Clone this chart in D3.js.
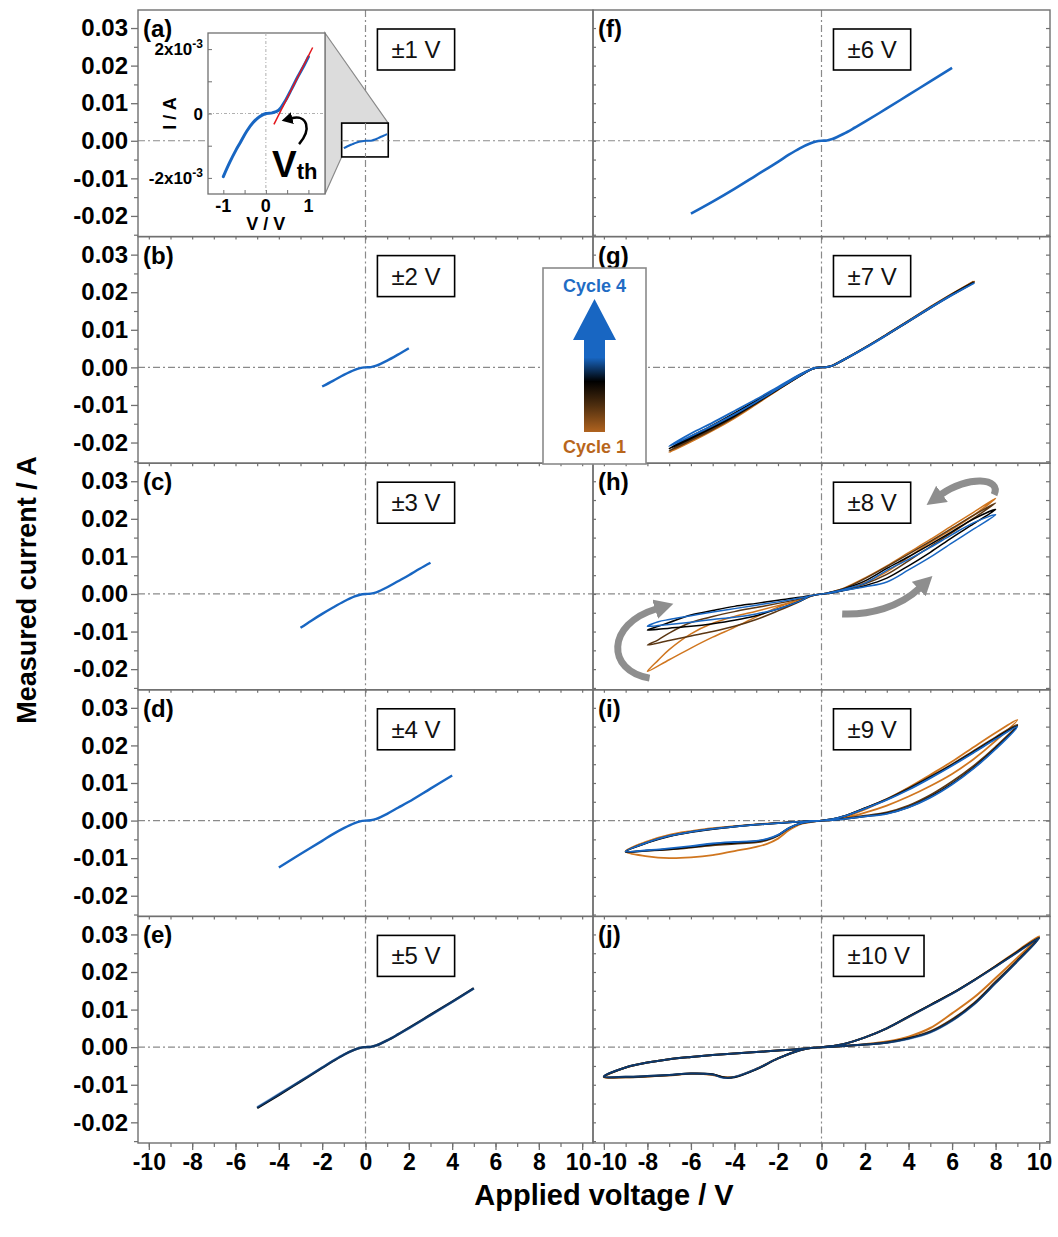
<!DOCTYPE html>
<html>
<head>
<meta charset="utf-8">
<script src="https://cdn.jsdelivr.net/npm/d3@7"></script>
<style>
  body { margin: 0; background: #fff; }
  svg { display: block; }
  text { font-family: Arial, "Liberation Sans", sans-serif; }
</style>
</head>
<body>
<svg id="chart" width="1058" height="1237"></svg>
<script>
// ---------------------------------------------------------------
// Measured I–V sweeps. Voltages in V, currents in mA.
// Each panel has one voltage path; each cycle has a current list
// of the same length (0 → +Vmax → 0 → −Vmax → 0).
// ---------------------------------------------------------------
const sweepA   = [-1, -0.85, -0.7, -0.6, -0.45, -0.3, -0.15, 0, 0.15, 0.3, 0.45, 0.6, 0.75, 0.9, 1.0];
const currentA = [-1.96, -1.52, -1.13, -0.9, -0.55, -0.28, -0.1, 0, 0.02, 0.1, 0.38, 0.75, 1.14, 1.5, 1.76];

// straight-line fit used to read the threshold voltage
const vthFitV = [0.19, 1.1];
const vthFitI = [-0.34, 2.05];

const sweepB   = [-2, -1.5, -1, -0.5, -0.25, 0, 0.25, 0.5, 1, 1.5, 2];
const currentB = [-5.1, -3.6, -2.0, -0.65, -0.2, 0, 0.08, 0.45, 1.8, 3.4, 5.1];

const sweepC   = [-3, -2.5, -2, -1.5, -1, -0.5, -0.25, 0, 0.25, 0.5, 1, 1.5, 2, 2.5, 3];
const currentC = [-9.0, -7.1, -5.3, -3.6, -2.0, -0.65, -0.2, 0, 0.08, 0.45, 1.8, 3.4, 5.0, 6.7, 8.3];

const sweepD   = [-4, -3, -2, -1.5, -1, -0.5, -0.25, 0, 0.25, 0.5, 1, 1.5, 2, 3, 4];
const currentD = [-12.5, -8.9, -5.4, -3.6, -2.0, -0.65, -0.2, 0, 0.08, 0.45, 1.8, 3.4, 5.0, 8.5, 12.0];

const sweepE    = [-5, -4, -3, -2, -1.5, -1, -0.5, -0.25, 0, 0.25, 0.5, 1, 1.5, 2, 3, 4, 5];
const currentE3 = [-16.2, -12.7, -9.1, -5.5, -3.7, -2.0, -0.65, -0.2, 0, 0.08, 0.45, 1.8, 3.4, 5.1, 8.6, 12.1, 15.7];
const currentE4 = [-16.0, -12.5, -9.0, -5.4, -3.6, -2.0, -0.65, -0.2, 0, 0.08, 0.45, 1.8, 3.4, 5.0, 8.5, 12.0, 15.6];

const sweepF   = [-6, -5, -4, -3, -2, -1.5, -1, -0.5, -0.25, 0, 0.25, 0.5, 1, 1.5, 2, 3, 4, 5, 6];
const currentF = [-19.4, -16.2, -12.8, -9.2, -5.6, -3.7, -2.0, -0.65, -0.2, 0, 0.08, 0.45, 1.8, 3.4, 5.1, 8.6, 12.2, 15.8, 19.4];

const sweepG = [0, 0.25, 0.5, 1, 2, 3, 4, 5, 6, 7,
                6, 5, 4, 3, 2, 1, 0.5, 0.25, 0,
                -0.25, -0.5, -1, -2, -3, -4, -5, -6, -7,
                -6, -5, -4, -3, -2, -1, -0.5, -0.25, 0];
const currentG1 = [0, 0.05, 0.45, 1.9, 5.2, 8.7, 12.3, 16.0, 19.5, 22.9,
                   19.6, 16.1, 12.4, 8.8, 5.3, 2.0, 0.5, 0.1, 0,
                   -0.1, -0.6, -2.3, -6.0, -9.8, -13.5, -16.8, -19.8, -22.6,
                   -19.5, -16.5, -13.2, -9.6, -5.8, -2.1, -0.6, -0.1, 0];
const currentG2 = [0, 0.05, 0.45, 1.9, 5.2, 8.7, 12.3, 15.9, 19.4, 22.8,
                   19.5, 16.0, 12.4, 8.8, 5.3, 2.0, 0.5, 0.1, 0,
                   -0.1, -0.6, -2.3, -5.9, -9.6, -13.2, -16.5, -19.4, -22.2,
                   -19.0, -16.0, -12.8, -9.4, -5.7, -2.1, -0.6, -0.1, 0];
const currentG3 = [0, 0.05, 0.45, 1.9, 5.2, 8.6, 12.2, 15.8, 19.3, 22.6,
                   19.4, 15.9, 12.3, 8.7, 5.2, 2.0, 0.5, 0.1, 0,
                   -0.1, -0.6, -2.3, -5.8, -9.4, -12.9, -16.0, -18.9, -21.6,
                   -18.4, -15.4, -12.2, -8.9, -5.5, -2.0, -0.6, -0.1, 0];
const currentG4 = [0, 0.05, 0.45, 1.9, 5.1, 8.6, 12.2, 15.8, 19.2, 22.4,
                   19.3, 15.9, 12.3, 8.7, 5.2, 2.0, 0.5, 0.1, 0,
                   -0.1, -0.6, -2.2, -5.7, -9.2, -12.5, -15.5, -18.3, -21.0,
                   -17.6, -14.7, -11.6, -8.5, -5.2, -1.9, -0.5, -0.1, 0];

const sweepH = [0, 0.25, 0.5, 1, 2, 3, 4, 5, 6, 7, 8,
                7, 6, 5, 4, 3, 2, 1, 0.5, 0.25, 0,
                -0.25, -0.5, -1, -2, -3, -4, -5, -6, -7, -8,
                -7.5, -7, -6, -5, -4, -3, -2, -1, -0.5, -0.25, 0];
const currentH1 = [0, 0.1, 0.35, 1.0, 3.0, 5.9, 9.8, 13.7, 17.2, 21.0, 25.5,
                   21.8, 18.2, 14.5, 11.0, 7.5, 4.3, 1.5, 0.6, 0.2, 0,
                   -0.2, -0.6, -1.6, -3.5, -6.1, -8.9, -11.5, -14.4, -17.5, -20.6,
                   -17.6, -14.8, -10.6, -7.8, -6.0, -4.6, -3.1, -1.5, -0.6, -0.2, 0];
const currentH2 = [0, 0.1, 0.3, 1.0, 2.7, 5.2, 8.8, 12.6, 16.3, 20.2, 24.2,
                   21.0, 17.5, 14.0, 10.6, 7.3, 4.1, 1.4, 0.6, 0.2, 0,
                   -0.2, -0.6, -2.0, -4.5, -6.8, -8.6, -10.0, -11.2, -12.4, -13.6,
                   -12.2, -10.4, -7.6, -6.0, -4.7, -3.6, -2.5, -1.3, -0.6, -0.2, 0];
const currentH3 = [0, 0.1, 0.3, 0.9, 2.2, 4.2, 7.5, 11.1, 15.0, 18.7, 22.5,
                   20.0, 16.6, 13.2, 9.9, 6.8, 3.5, 1.3, 0.5, 0.2, 0,
                   -0.2, -0.5, -1.9, -4.0, -5.8, -7.0, -7.9, -8.6, -9.1, -9.6,
                   -8.6, -7.6, -5.6, -4.4, -3.3, -2.5, -1.7, -0.9, -0.4, -0.2, 0];
const currentH4 = [0, 0.1, 0.3, 0.9, 1.9, 3.2, 6.4, 9.8, 13.6, 17.3, 21.1,
                   19.0, 15.8, 12.4, 9.2, 6.3, 2.9, 1.2, 0.5, 0.2, 0,
                   -0.2, -0.5, -1.9, -4.0, -5.3, -6.2, -6.8, -7.5, -8.1, -8.6,
                   -7.4, -6.8, -5.8, -4.8, -3.9, -3.0, -2.1, -1.1, -0.5, -0.2, 0];

const sweepI = [0, 0.5, 1, 2, 3, 4, 5, 6, 7, 8, 9,
                8, 7, 6, 5, 4, 3, 2, 1, 0.5, 0,
                -0.5, -1, -1.5, -2, -2.5, -3, -4, -5, -6, -7, -8, -9,
                -8, -7, -6, -5, -4, -3, -2, -1, -0.5, 0];
const currentI1 = [0, 0.2, 0.6, 2.1, 4.0, 6.4, 9.2, 12.4, 16.4, 21.2, 26.8,
                   23.4, 19.6, 15.7, 12.2, 8.8, 5.7, 3.0, 0.9, 0.3, 0,
                   -0.4, -1.0, -2.6, -4.8, -6.2, -7.0, -8.1, -9.2, -9.8, -10.0, -9.5, -8.2,
                   -5.5, -3.8, -2.8, -2.0, -1.5, -1.0, -0.6, -0.3, -0.1, 0];
const currentI2 = [0, 0.1, 0.5, 1.3, 2.2, 4.0, 6.8, 10.4, 14.6, 19.6, 25.5,
                   22.2, 18.6, 15.0, 11.7, 8.6, 5.7, 3.3, 1.1, 0.4, 0,
                   -0.3, -0.8, -2.1, -4.0, -5.2, -5.8, -6.2, -6.6, -7.2, -7.7, -8.0, -8.2,
                   -5.8, -4.1, -3.0, -2.2, -1.6, -1.1, -0.7, -0.3, -0.1, 0];
const currentI3 = [0, 0.1, 0.4, 1.1, 1.9, 3.6, 6.3, 9.8, 14.1, 19.2, 25.2,
                   21.9, 18.3, 14.8, 11.5, 8.4, 5.6, 3.3, 1.1, 0.4, 0,
                   -0.3, -0.8, -2.0, -3.9, -5.0, -5.5, -5.9, -6.3, -7.0, -7.6, -8.0, -8.3,
                   -5.9, -4.2, -3.1, -2.3, -1.6, -1.1, -0.7, -0.3, -0.1, 0];
const currentI4 = [0, 0.1, 0.4, 1.1, 1.8, 3.5, 6.1, 9.6, 13.9, 19.0, 25.0,
                   21.7, 18.1, 14.6, 11.3, 8.2, 5.5, 3.2, 1.1, 0.4, 0,
                   -0.3, -0.8, -2.0, -3.8, -4.9, -5.4, -5.7, -6.1, -6.8, -7.4, -7.9, -8.2,
                   -5.8, -4.1, -3.0, -2.2, -1.6, -1.1, -0.7, -0.3, -0.1, 0];

const sweepJ = [0, 0.5, 1, 2, 3, 4, 5, 6, 7, 8, 9, 10,
                9, 8, 7, 6, 5, 4, 3, 2, 1, 0.5, 0,
                -0.5, -1, -2, -3, -4, -4.5, -5, -6, -7, -8, -9, -10,
                -9, -8, -7, -6, -5, -4, -3, -2, -1, -0.5, 0];
const currentJ1 = [0, 0.1, 0.3, 0.8, 1.5, 2.8, 5.1, 9.0, 13.2, 18.4, 23.8, 29.5,
                   25.6, 21.6, 17.8, 14.3, 11.2, 8.0, 5.0, 2.6, 0.8, 0.3, 0,
                   -0.2, -0.8, -3.0, -5.8, -7.9, -8.0, -7.4, -7.1, -7.5, -7.8, -8.0, -8.0,
                   -5.4, -4.1, -3.2, -2.6, -2.1, -1.7, -1.3, -0.9, -0.5, -0.2, 0];
const currentJ2 = [0, 0.1, 0.3, 0.7, 1.3, 2.4, 4.2, 7.4, 11.7, 17.4, 23.1, 29.2,
                   25.4, 21.5, 17.8, 14.3, 11.2, 8.1, 5.0, 2.6, 0.8, 0.3, 0,
                   -0.2, -0.8, -3.0, -5.8, -7.9, -8.0, -7.3, -7.0, -7.5, -7.8, -8.0, -7.9,
                   -5.4, -4.1, -3.2, -2.6, -2.1, -1.7, -1.3, -0.9, -0.5, -0.2, 0];
const currentJ3 = [0, 0.1, 0.3, 0.7, 1.2, 2.3, 4.0, 7.1, 11.4, 17.1, 22.9, 29.0,
                   25.3, 21.5, 17.8, 14.3, 11.2, 8.1, 5.0, 2.6, 0.8, 0.3, 0,
                   -0.2, -0.8, -3.0, -5.9, -8.0, -8.1, -7.2, -7.0, -7.4, -7.7, -7.9, -7.8,
                   -5.4, -4.1, -3.2, -2.6, -2.1, -1.7, -1.3, -0.9, -0.5, -0.2, 0];
const currentJ4 = [0, 0.1, 0.3, 0.7, 1.2, 2.2, 3.9, 7.0, 11.3, 17.0, 22.8, 29.0,
                   25.2, 21.4, 17.7, 14.2, 11.1, 8.0, 5.0, 2.6, 0.8, 0.3, 0,
                   -0.2, -0.8, -3.0, -5.8, -7.9, -8.2, -7.3, -7.0, -7.4, -7.7, -7.9, -7.8,
                   -5.4, -4.1, -3.2, -2.6, -2.1, -1.7, -1.3, -0.9, -0.5, -0.2, 0];

// Axis ticks and labels
const xTickValues = [-10, -8, -6, -4, -2, 0, 2, 4, 6, 8, 10];
const xTickLabels = ["-10", "-8", "-6", "-4", "-2", "0", "2", "4", "6", "8", "10"];
const yTickValues = [-0.02, -0.01, 0, 0.01, 0.02, 0.03];
const yTickLabels = ["-0.02", "-0.01", "0.00", "0.01", "0.02", "0.03"];
const panelTags   = ["(a)", "(b)", "(c)", "(d)", "(e)", "(f)", "(g)", "(h)", "(i)", "(j)"];
const rangeLabels = ["±1 V", "±2 V", "±3 V", "±4 V", "±5 V", "±6 V", "±7 V", "±8 V", "±9 V", "±10 V"];
const cycleNames  = ["Cycle 1", "Cycle 4"];

// ---------------------------------------------------------------
// Layout and styling
// ---------------------------------------------------------------
const colX = [[138, 593], [593, 1050]];
const rowTop = 10, rowH = 226.6;
const xDomain = [-10.5, 10.5];
const yDomain = [-0.0255, 0.0348];
const cycleColors = { 1: "#d0761f", 2: "#5b3714", 3: "#000000", 4: "#1866c2" };
const frameColor = "#707070";
const refColor = "#8a8a8a";

const panels = [
  { col: 0, row: 0, sweep: sweepA, traces: [[4, currentA]], width: 2.4 },
  { col: 0, row: 1, sweep: sweepB, traces: [[4, currentB]], width: 2.4 },
  { col: 0, row: 2, sweep: sweepC, traces: [[4, currentC]], width: 2.4 },
  { col: 0, row: 3, sweep: sweepD, traces: [[4, currentD]], width: 2.4 },
  { col: 0, row: 4, sweep: sweepE, traces: [[3, currentE3], [4, currentE4]], width: 2.4, topAlpha: 0.55 },
  { col: 1, row: 0, sweep: sweepF, traces: [[4, currentF]], width: 2.6 },
  { col: 1, row: 1, sweep: sweepG, traces: [[1, currentG1], [2, currentG2], [3, currentG3], [4, currentG4]], width: 1.8 },
  { col: 1, row: 2, sweep: sweepH, traces: [[1, currentH1], [2, currentH2], [3, currentH3], [4, currentH4]], width: 1.5 },
  { col: 1, row: 3, sweep: sweepI, traces: [[1, currentI1], [2, currentI2], [3, currentI3], [4, currentI4]], width: 1.8 },
  { col: 1, row: 4, sweep: sweepJ, traces: [[1, currentJ1], [2, currentJ2], [3, currentJ3], [4, currentJ4]], width: 2.0, topAlpha: 0.55 }
];

const svg = d3.select("#chart");
const defs = svg.append("defs");

defs.append("marker")
  .attr("id", "grayHead").attr("markerUnits", "userSpaceOnUse")
  .attr("markerWidth", 22).attr("markerHeight", 22)
  .attr("refX", 1).attr("refY", 10).attr("orient", "auto")
  .append("path").attr("d", "M0,0 L19,10 L0,20 Z").attr("fill", "#8e8e8e");

defs.append("marker")
  .attr("id", "blackHead").attr("markerUnits", "userSpaceOnUse")
  .attr("markerWidth", 14).attr("markerHeight", 14)
  .attr("refX", 1).attr("refY", 6).attr("orient", "auto")
  .append("path").attr("d", "M0,0 L11,6 L0,12 Z").attr("fill", "#000");

const xScales = colX.map(r => d3.scaleLinear().domain(xDomain).range(r));
const yFor = row => d3.scaleLinear().domain(yDomain).range([rowTop + (row + 1) * rowH, rowTop + row * rowH]);

const plotLayer = svg.append("g");
const axisLayer = svg.append("g");

panels.forEach((p, k) => {
  const x = xScales[p.col], y = yFor(p.row);
  const [x0, x1] = colX[p.col];
  const top = rowTop + p.row * rowH, bottom = top + rowH;
  const g = plotLayer.append("g");

  // zero reference lines
  g.append("line").attr("x1", x(0)).attr("x2", x(0)).attr("y1", top).attr("y2", bottom)
    .attr("stroke", refColor).attr("stroke-width", 1.2).attr("stroke-dasharray", "7,3,2,3");
  g.append("line").attr("x1", x0).attr("x2", x1).attr("y1", y(0)).attr("y2", y(0))
    .attr("stroke", refColor).attr("stroke-width", 1.2).attr("stroke-dasharray", "7,3,2,3");

  const line = d3.line()
    .x(d => x(d[0]))
    .y(d => y(d[1] / 1000))
    .curve(d3.curveCatmullRom.alpha(0.5));

  p.traces.forEach(([cyc, cur]) => {
    const pts = d3.zip(p.sweep, cur);
    g.append("path").attr("d", line(pts))
      .attr("fill", "none")
      .attr("stroke", cycleColors[cyc])
      .attr("stroke-width", p.width)
      .attr("stroke-linejoin", "round")
      .attr("stroke-opacity", (cyc === 4 && p.topAlpha) ? p.topAlpha : 1);
  });

  // frame
  g.append("rect").attr("x", x0).attr("y", top).attr("width", x1 - x0).attr("height", rowH)
    .attr("fill", "none").attr("stroke", frameColor).attr("stroke-width", 1.4);

  // panel tag
  g.append("text").attr("x", x0 + 5).attr("y", top + 27)
    .attr("font-size", 24).attr("font-weight", "bold").text(panelTags[k]);

  // sweep range box
  const label = g.append("text").attr("y", top + 48)
    .attr("font-size", 24).attr("fill", "#111").text(rangeLabels[k]);
  const tw = label.node().getComputedTextLength();
  const bx = x(0.55);
  label.attr("x", bx + 14);
  g.append("rect").attr("x", bx).attr("y", top + 19).attr("width", tw + 28).attr("height", 41)
    .attr("fill", "none").attr("stroke", "#000").attr("stroke-width", 1.6);

  // ticks along the bottom edge of every panel
  const isLast = p.row === 4;
  const minorX = axisLayer.append("g").attr("transform", `translate(0,${bottom})`)
    .call(d3.axisBottom(x).tickValues(d3.range(-10, 11, 1)).tickSize(isLast ? 4 : 3).tickFormat(""));
  minorX.select(".domain").remove();
  minorX.selectAll("line").attr("stroke", frameColor).attr("stroke-width", 1.2);

  if (isLast) {
    const ax = axisLayer.append("g").attr("transform", `translate(0,${bottom})`)
      .call(d3.axisBottom(x).tickValues(xTickValues).tickSize(7)
        .tickFormat((d, i) => xTickLabels[i]).tickPadding(2));
    ax.select(".domain").remove();
    ax.selectAll("line").attr("stroke", frameColor).attr("stroke-width", 1.3);
    ax.selectAll("text").attr("font-size", 23).attr("font-weight", "bold")
      .attr("fill", "#000").attr("font-family", "Arial, 'Liberation Sans', sans-serif")
      .attr("dy", "0.78em");
    // the two end labels meet at the column junction; nudge them apart
    if (p.col === 0) ax.selectAll("text").filter(d => d === 10).attr("x", -4);
    if (p.col === 1) ax.selectAll("text").filter(d => d === -10).attr("x", 6);
  }

  if (p.col === 0) {
    const ay = axisLayer.append("g").attr("transform", `translate(${x0},0)`)
      .call(d3.axisLeft(y).tickValues(yTickValues).tickSize(7)
        .tickFormat((d, i) => yTickLabels[i]).tickPadding(3));
    ay.select(".domain").remove();
    ay.selectAll("line").attr("stroke", frameColor).attr("stroke-width", 1.3);
    ay.selectAll("text").attr("font-size", 24).attr("font-weight", "bold")
      .attr("fill", "#000").attr("font-family", "Arial, 'Liberation Sans', sans-serif");
    const my = axisLayer.append("g").attr("transform", `translate(${x0},0)`)
      .call(d3.axisLeft(y).tickValues([-0.025, -0.015, -0.005, 0.005, 0.015, 0.025]).tickSize(4).tickFormat(""));
    my.select(".domain").remove();
    my.selectAll("line").attr("stroke", frameColor).attr("stroke-width", 1.2);
  } else {
    const vals = [-0.025, -0.02, -0.015, -0.01, -0.005, 0, 0.005, 0.01, 0.015, 0.02, 0.025, 0.03];
    const rIn = axisLayer.append("g").attr("transform", `translate(${x1},0)`)
      .call(d3.axisLeft(y).tickValues(vals).tickSize(4).tickFormat(""));
    rIn.select(".domain").remove();
    rIn.selectAll("line").attr("stroke", frameColor).attr("stroke-width", 1.2);
    const lIn = axisLayer.append("g").attr("transform", `translate(${x0},0)`)
      .call(d3.axisRight(y).tickValues(vals).tickSize(3).tickFormat(""));
    lIn.select(".domain").remove();
    lIn.selectAll("line").attr("stroke", frameColor).attr("stroke-width", 1.2);
  }
});

// ---------------------------------------------------------------
// Panel (a): zoom window and inset close-up with threshold fit
// ---------------------------------------------------------------
(function drawInset() {
  const x = xScales[0], y = yFor(0);
  const g = svg.append("g");
  const ix = d3.scaleLinear().domain([-1.36, 1.39]).range([208, 325]);
  const iy = d3.scaleLinear().domain([-2.5e-3, 2.5e-3]).range([194, 33]);

  // zoom window on the main axes
  const bx0 = x(-1.1), bx1 = x(1.05), by0 = y(0.0047), by1 = y(-0.0043);
  g.append("path")
    .attr("d", `M${ix.range()[1]},${iy.range()[1]} L${bx1},${by0} L${bx0},${by0} L${bx0},${by1} L${ix.range()[1]},${iy.range()[0]} Z`)
    .attr("fill", "#dcdcdc").attr("stroke", "#8a8a8a").attr("stroke-width", 1.2);
  g.append("rect").attr("x", bx0).attr("y", by0).attr("width", bx1 - bx0).attr("height", by1 - by0)
    .attr("fill", "#fff").attr("stroke", "#000").attr("stroke-width", 1.6);
  g.append("line").attr("x1", bx0).attr("x2", bx1).attr("y1", y(0)).attr("y2", y(0))
    .attr("stroke", refColor).attr("stroke-width", 1.1).attr("stroke-dasharray", "7,3,2,3");
  g.append("line").attr("x1", x(0)).attr("x2", x(0)).attr("y1", by0).attr("y2", by1)
    .attr("stroke", refColor).attr("stroke-width", 1.1).attr("stroke-dasharray", "7,3,2,3");
  const mainLine = d3.line().x(d => x(d[0])).y(d => y(d[1] / 1000)).curve(d3.curveCatmullRom.alpha(0.5));
  g.append("path").attr("d", mainLine(d3.zip(sweepA, currentA)))
    .attr("fill", "none").attr("stroke", cycleColors[4]).attr("stroke-width", 2);

  // inset axes
  g.append("rect").attr("x", 208).attr("y", 33).attr("width", 117).attr("height", 161)
    .attr("fill", "#fff").attr("stroke", frameColor).attr("stroke-width", 1.3);
  g.append("line").attr("x1", ix(0)).attr("x2", ix(0)).attr("y1", 33).attr("y2", 194)
    .attr("stroke", "#b0b0b0").attr("stroke-width", 1).attr("stroke-dasharray", "3,2,1,2");
  g.append("line").attr("x1", 208).attr("x2", 325).attr("y1", iy(0)).attr("y2", iy(0))
    .attr("stroke", "#b0b0b0").attr("stroke-width", 1).attr("stroke-dasharray", "3,2,1,2");

  const ib = g.append("g").attr("transform", "translate(0,194)")
    .call(d3.axisBottom(ix).tickValues([-1, -0.5, 0, 0.5, 1]).tickSize(-4).tickFormat(""));
  ib.select(".domain").remove();
  ib.selectAll("line").attr("stroke", frameColor);
  const il = g.append("g").attr("transform", "translate(208,0)")
    .call(d3.axisLeft(iy).tickValues([-2e-3, -1e-3, 0, 1e-3, 2e-3]).tickSize(-4).tickFormat(""));
  il.select(".domain").remove();
  il.selectAll("line").attr("stroke", frameColor);

  [-1, 0, 1].forEach(v => {
    g.append("text").attr("x", ix(v)).attr("y", 212).attr("text-anchor", "middle")
      .attr("font-size", 18).attr("font-weight", "bold").text(v === -1 ? "-1" : String(v));
  });
  g.append("text").attr("x", ix(0)).attr("y", 230).attr("text-anchor", "middle")
    .attr("font-size", 18).attr("font-weight", "bold").text("V / V");

  const yl = [[2e-3, "2x10", "-3"], [0, "0", null], [-2e-3, "-2x10", "-3"]];
  yl.forEach(([v, base, sup]) => {
    const t = g.append("text").attr("x", 203).attr("y", iy(v) + 6).attr("text-anchor", "end")
      .attr("font-size", 17).attr("font-weight", "bold");
    t.append("tspan").text(base);
    if (sup) t.append("tspan").attr("font-size", 12).attr("dy", -7).text(sup);
  });
  g.append("text").attr("transform", `translate(176,${iy(0)}) rotate(-90)`)
    .attr("text-anchor", "middle").attr("font-size", 18).attr("font-weight", "bold").text("I / A");

  const insetLine = d3.line().x(d => ix(d[0])).y(d => iy(d[1] / 1000)).curve(d3.curveCatmullRom.alpha(0.5));
  g.append("path").attr("d", insetLine(d3.zip(sweepA, currentA)))
    .attr("fill", "none").attr("stroke", cycleColors[4]).attr("stroke-width", 3).attr("stroke-linecap", "round");
  g.append("path").attr("d", d3.line().x(d => ix(d[0])).y(d => iy(d[1] / 1000))(d3.zip(vthFitV, vthFitI)))
    .attr("fill", "none").attr("stroke", "#e3161b").attr("stroke-width", 1.5);

  // threshold annotation
  g.append("path")
    .attr("d", `M${ix(0.78)},${iy(-0.95e-3)} C${ix(1.08)},${iy(-0.5e-3)} ${ix(0.98)},${iy(-0.02e-3)} ${ix(0.6)},${iy(-0.15e-3)}`)
    .attr("fill", "none").attr("stroke", "#000").attr("stroke-width", 2.5).attr("marker-end", "url(#blackHead)");
  const vt = g.append("text").attr("x", 272).attr("y", 177).attr("font-weight", "bold");
  vt.append("tspan").attr("font-size", 37).text("V");
  vt.append("tspan").attr("font-size", 22).attr("dy", 2).text("th");
})();

// ---------------------------------------------------------------
// Panel (h): sweep direction arrows
// ---------------------------------------------------------------
(function drawSweepArrows() {
  const x = xScales[1], y = yFor(2);
  const P = (v, mA) => `${x(v)},${y(mA / 1000)}`;
  const arrows = [
    `M${P(7.93, 26.4)} C${P(8.3, 31.0)} ${P(6.7, 31.5)} ${P(5.5, 26.5)}`,
    `M${P(0.95, -5.3)} C${P(2.2, -5.6)} ${P(3.6, -3.5)} ${P(4.5, 1.5)}`,
    `M${P(-7.9, -22.4)} C${P(-9.9, -20.5)} ${P(-9.9, -8.0)} ${P(-7.6, -4.0)}`
  ];
  arrows.forEach(d => {
    svg.append("path").attr("d", d).attr("fill", "none")
      .attr("stroke", "#8e8e8e").attr("stroke-width", 7)
      .attr("marker-end", "url(#grayHead)");
  });
})();

// ---------------------------------------------------------------
// Cycle colour key
// ---------------------------------------------------------------
(function drawKey() {
  const k = svg.append("g");
  const grad = defs.append("linearGradient").attr("id", "cycleGrad")
    .attr("gradientUnits", "userSpaceOnUse").attr("x1", 0).attr("x2", 0).attr("y1", 299).attr("y2", 432);
  [[0, "#1866c2"], [0.44, "#1866c2"], [0.62, "#000000"], [0.8, "#4e2e0f"], [1, "#b0631f"]]
    .forEach(([o, c]) => grad.append("stop").attr("offset", o).attr("stop-color", c));
  k.append("rect").attr("x", 543).attr("y", 268).attr("width", 103).attr("height", 196)
    .attr("fill", "#fff").attr("stroke", "#8a8a8a").attr("stroke-width", 1.6);
  k.append("path").attr("d", "M584,432 L584,340 L573,340 L594.5,299 L616,340 L605,340 L605,432 Z")
    .attr("fill", "url(#cycleGrad)");
  k.append("text").attr("x", 594.5).attr("y", 292).attr("text-anchor", "middle")
    .attr("font-size", 18).attr("font-weight", "bold").attr("fill", "#1f6cc4").text(cycleNames[1]);
  k.append("text").attr("x", 594.5).attr("y", 453).attr("text-anchor", "middle")
    .attr("font-size", 18).attr("font-weight", "bold").attr("fill", "#b8661c").text(cycleNames[0]);
})();

// axis titles
svg.append("text").attr("transform", "translate(36,590) rotate(-90)")
  .attr("text-anchor", "middle").attr("font-size", 27).attr("font-weight", "bold")
  .text("Measured current / A");
svg.append("text").attr("x", 604).attr("y", 1205).attr("text-anchor", "middle")
  .attr("font-size", 29).attr("font-weight", "bold").text("Applied voltage / V");
</script>
</body>
</html>
